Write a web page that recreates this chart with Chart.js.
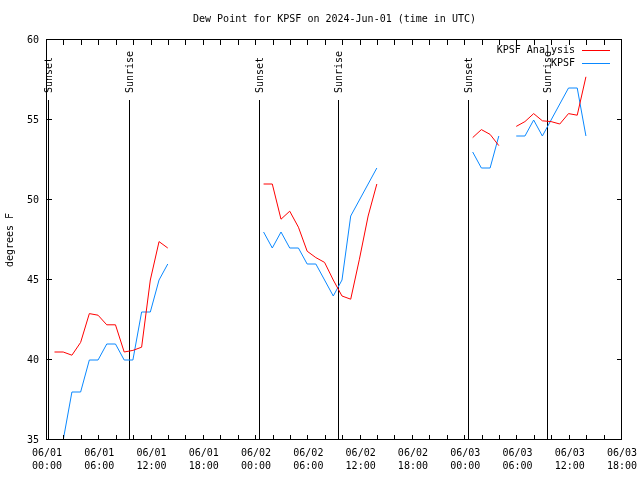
<!DOCTYPE html>
<html>
<head>
<meta charset="utf-8">
<title>Dew Point for KPSF</title>
<script src="https://cdn.jsdelivr.net/npm/chart.js@4.4.1/dist/chart.umd.min.js"></script>
<style>
  html, body { margin: 0; padding: 0; background: #fff; }
  canvas { display: block; }
</style>
</head>
<body>
<canvas id="grafico" width="640" height="480"></canvas>
<script>
// hours since 06/01 00:00 UTC for each observation
const obsHours = [
  0.86, 1.86, 2.86, 3.86, 4.86, 5.86, 6.86, 7.86, 8.86, 9.86, 10.86, 11.86, 12.86, 13.86,
  24.86, 25.86, 26.86, 27.86, 28.86, 29.86, 30.86, 31.86, 32.86, 33.86, 34.86, 35.86, 36.86, 37.86,
  48.86, 49.86, 50.86, 51.86, 53.86, 54.86, 55.86, 56.86, 57.86, 58.86, 59.86, 60.86, 61.86
];

// KPSF Analysis (red)
const analysisVals = [
  40.5, 40.5, 40.3, 41.1, 42.9, 42.8, 42.2, 42.2, 40.5, 40.6, 40.8, 45.0, 47.4, 47.0,
  51.0, 51.0, 48.8, 49.3, 48.3, 46.8, 46.4, 46.1, 45.0, 44.0, 43.8, 46.3, 49.0, 51.0,
  53.9, 54.4, 54.1, 53.4, 54.6, 54.9, 55.4, 54.95, 54.9, 54.75, 55.4, 55.3, 57.7
];

// KPSF obs (blue)
const kpsfVals = [
  35, 35, 38, 38, 40, 40, 41, 41, 40, 40, 43, 43, 45, 46,
  48, 47, 48, 47, 47, 46, 46, 45, 44, 45, 49, 50, 51, 52,
  53, 52, 52, 54, 54, 54, 55, 54, 55, 56, 57, 57, 54
];

const sunLabels = ['Sunset', 'Sunrise', 'Sunset', 'Sunrise', 'Sunset', 'Sunrise'];
const sunHours = [0.15, 9.37, 24.29, 33.36, 48.29, 57.36];

const tickLabels = [
  '06/01 00:00', '06/01 06:00', '06/01 12:00', '06/01 18:00',
  '06/02 00:00', '06/02 06:00', '06/02 12:00', '06/02 18:00',
  '06/03 00:00', '06/03 06:00', '06/03 12:00', '06/03 18:00'
];

const titulo = 'Dew Point for KPSF on 2024-Jun-01 (time in UTC)';
const FONTE = 'DejaVu Sans Mono';

// title, sunrise/sunset lines, frame, inward ticks and legend (gnuplot look)
const marcas = {
  id: 'marcas',
  beforeDatasetsDraw(chart) {
    const { ctx, chartArea, scales } = chart;
    ctx.save();
    ctx.strokeStyle = '#000';
    ctx.lineWidth = 1;
    sunHours.forEach(h => {
      const x = Math.round(scales.x.getPixelForValue(h)) + 0.5;
      ctx.beginPath();
      ctx.moveTo(x, chartArea.top + 60);
      ctx.lineTo(x, chartArea.bottom);
      ctx.stroke();
    });
    ctx.restore();
  },
  afterDraw(chart) {
    const { ctx, chartArea, scales } = chart;
    const { left, right, top, bottom } = chartArea;
    ctx.save();
    ctx.strokeStyle = '#000';
    ctx.lineWidth = 1;
    ctx.strokeRect(left - 0.5, top - 0.5, right - left, bottom - top);

    ctx.beginPath();
    for (let h = 0; h <= 66; h += 2) {
      const x = Math.round(scales.x.getPixelForValue(h)) - 0.5;
      ctx.moveTo(x, bottom); ctx.lineTo(x, bottom - 5);
      ctx.moveTo(x, top); ctx.lineTo(x, top + 5);
    }
    for (let v = 35; v <= 60; v += 5) {
      const y = Math.round(scales.y.getPixelForValue(v)) - 0.5;
      ctx.moveTo(left, y); ctx.lineTo(left + 5, y);
      ctx.moveTo(right, y); ctx.lineTo(right - 5, y);
    }
    ctx.stroke();

    ctx.fillStyle = '#000';
    ctx.font = '10px "' + FONTE + '"';

    // title centred over the plot box
    ctx.textAlign = 'center';
    ctx.textBaseline = 'middle';
    ctx.fillText(titulo, (left + right) / 2, 19);

    // rotated labels above each sun line, reading upward
    ctx.textAlign = 'left';
    sunHours.forEach((h, i) => {
      const x = Math.round(scales.x.getPixelForValue(h)) + 1;
      ctx.save();
      ctx.translate(x, top + 53);
      ctx.rotate(-Math.PI / 2);
      ctx.fillText(sunLabels[i], 0, 0);
      ctx.restore();
    });

    // legend, text on the left of the sample line
    ctx.textAlign = 'right';
    chart.data.datasets.forEach((ds, i) => {
      const y = top + 10 + i * 13;
      ctx.fillStyle = '#000';
      ctx.fillText(ds.label, right - 47, y);
      ctx.strokeStyle = ds.borderColor;
      ctx.beginPath();
      ctx.moveTo(right - 40, Math.round(y) + 0.5);
      ctx.lineTo(right - 12, Math.round(y) + 0.5);
      ctx.stroke();
    });
    ctx.restore();
  }
};

const ponto = vals => obsHours.map((h, i) => ({ x: h, y: vals[i] }));

new Chart(document.getElementById('grafico'), {
  type: 'line',
  data: {
    datasets: [
      {
        label: 'KPSF Analysis',
        data: ponto(analysisVals),
        borderColor: '#ff0000',
        borderWidth: 1,
        pointRadius: 0,
        tension: 0,
        spanGaps: 1.5
      },
      {
        label: 'KPSF',
        data: ponto(kpsfVals),
        borderColor: '#0a88ff',
        borderWidth: 1,
        pointRadius: 0,
        tension: 0,
        spanGaps: 1.5
      }
    ]
  },
  options: {
    responsive: false,
    animation: false,
    devicePixelRatio: 1,
    layout: { padding: { left: 0, right: 18, top: 40, bottom: 0 } },
    plugins: {
      legend: { display: false },
      tooltip: { enabled: false },
      title: { display: false }
    },
    scales: {
      x: {
        type: 'linear',
        min: 0,
        max: 66,
        grid: { display: false, drawTicks: false },
        border: { display: false },
        ticks: {
          stepSize: 6,
          autoSkip: false,
          maxRotation: 0,
          padding: 7,
          color: '#000',
          font: { family: FONTE, size: 10, lineHeight: 1.3 },
          callback: v => tickLabels[v / 6] ? tickLabels[v / 6].split(' ') : ''
        },
        afterFit: s => { s.height = 40; s.paddingLeft = 0; s.paddingRight = 0; }
      },
      y: {
        min: 35,
        max: 60,
        grid: { display: false, drawTicks: false },
        border: { display: false },
        ticks: {
          stepSize: 5,
          padding: 8,
          color: '#000',
          font: { family: FONTE, size: 10 }
        },
        title: {
          display: true,
          text: 'degrees F',
          color: '#000',
          font: { family: FONTE, size: 10 },
          padding: { top: 4, bottom: 0 }
        },
        afterFit: s => { s.width = 47; s.paddingTop = 0; s.paddingBottom = 0; }
      }
    }
  },
  plugins: [marcas]
});
</script>
</body>
</html>
